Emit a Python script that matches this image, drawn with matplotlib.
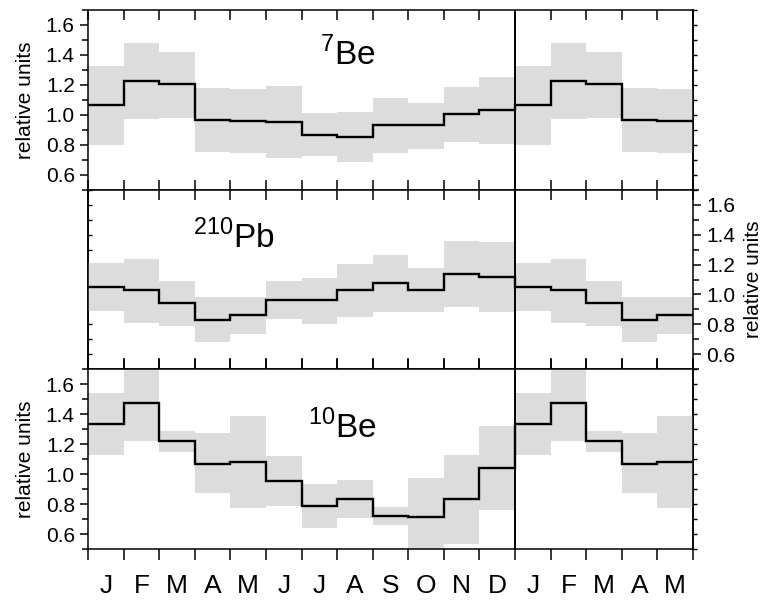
import matplotlib.pyplot as plt
import numpy as np

plt.rcParams['font.family'] = ['Liberation Sans', 'DejaVu Sans']
plt.rcParams['mathtext.fontset'] = 'custom'
plt.rcParams['mathtext.rm'] = 'Liberation Sans'

# month labels (12 months + first 5 repeated)
months = ['J', 'F', 'M', 'A', 'M', 'J', 'J', 'A', 'S', 'O', 'N', 'D',
          'J', 'F', 'M', 'A', 'M']

# 7Be: mean, upper and lower of the shaded band
be7_mean = [1.067, 1.229, 1.204, 0.967, 0.956, 0.951, 0.867, 0.851, 0.929, 0.929, 1.004, 1.031]
be7_hi = [1.329, 1.48, 1.422, 1.178, 1.173, 1.191, 1.009, 1.018, 1.109, 1.08, 1.184, 1.253]
be7_lo = [0.795, 0.971, 0.978, 0.753, 0.742, 0.713, 0.722, 0.682, 0.744, 0.771, 0.818, 0.802]

# 210Pb
pb_mean = [1.051, 1.027, 0.94, 0.829, 0.86, 0.96, 0.96, 1.029, 1.076, 1.033, 1.138, 1.118]
pb_hi = [1.211, 1.238, 1.091, 0.98, 0.98, 1.087, 1.111, 1.204, 1.264, 1.178, 1.358, 1.351]
pb_lo = [0.889, 0.807, 0.787, 0.682, 0.738, 0.833, 0.804, 0.851, 0.88, 0.884, 0.916, 0.882]

# 10Be
be10_mean = [1.333, 1.476, 1.22, 1.071, 1.084, 0.953, 0.789, 0.836, 0.722, 0.716, 0.833, 1.042]
be10_hi = [1.54, 1.72, 1.291, 1.273, 1.389, 1.118, 0.931, 0.958, 0.778, 0.971, 1.127, 1.324]
be10_lo = [1.129, 1.224, 1.151, 0.876, 0.775, 0.787, 0.642, 0.705, 0.662, 0.48, 0.535, 0.76]

names = [r'$^{7}$Be', r'$^{210}$Pb', r'$^{10}$Be']
label_pos = [(7.3, 1.40), (4.1, 1.38), (7.15, 1.31)]
series = [(be7_mean, be7_lo, be7_hi), (pb_mean, pb_lo, pb_hi), (be10_mean, be10_lo, be10_hi)]

fig = plt.figure(figsize=(7.66, 6.0), dpi=100)
gs = fig.add_gridspec(3, 1, left=88/766, right=693/766, top=1-10/600, bottom=1-549/600, hspace=0)
axes = [fig.add_subplot(gs[i]) for i in range(3)]

edges = np.arange(len(months) + 1)
ext = lambda v: np.array(list(v) + list(v[:5]))
major_y = [0.6, 0.8, 1.0, 1.2, 1.4, 1.6]
minor_y = np.arange(0.5, 1.71, 0.1)

for i, ax in enumerate(axes):
    m, lo, hi = series[i]
    ax.stairs(ext(hi), edges, baseline=ext(lo), fill=True, color='#dcdcdc', lw=0, zorder=1)
    ax.stairs(ext(m), edges, baseline=None, color='black', lw=1.7, zorder=3)
    ax.axvline(12, color='black', lw=1.4, zorder=4)
    ax.set_xlim(0, 17)
    ax.set_ylim(0.5, 1.7)
    for s in ax.spines.values():
        s.set_linewidth(1.1)
    ax.text(*label_pos[i], names[i], fontsize=24, ha='center', va='center')

    ax.set_xticks(edges)
    ax.set_xticks(edges[:-1] + 0.5, minor=True)
    ax.tick_params(axis='x', which='major', direction='in', length=7, width=1.1,
                   top=True, bottom=True, labelbottom=False)
    ax.tick_params(axis='x', which='minor', length=0, labelbottom=False)

    ax.set_yticks(major_y)
    ax.set_yticks(minor_y, minor=True)
    ax.tick_params(axis='y', labelsize=15)
    ax.tick_params(axis='y', which='major', direction='out', length=6, width=1.1)
    ax.tick_params(axis='y', which='minor', direction='out', length=4, width=1.1)

    # small ticks on the side without labels
    side = 'left' if i == 1 else 'right'
    sec = ax.secondary_yaxis(side)
    sec.set_yticks(major_y)
    sec.set_yticks(minor_y, minor=True)
    sec.tick_params(axis='y', which='both', direction='in' if i == 1 else 'out',
                    length=3, width=1.0, labelleft=False, labelright=False)
    sec.spines[side].set_linewidth(1.1)

    if i == 1:
        ax.yaxis.tick_right()
        ax.yaxis.set_label_position('right')
        ax.set_ylabel('relative units', fontsize=15, labelpad=6)
    else:
        ax.yaxis.tick_left()
        ax.set_ylabel('relative units', fontsize=15, labelpad=8)

axes[2].tick_params(axis='x', which='major', bottom=True, direction='out', length=8)
axes[2].tick_params(axis='x', which='minor', labelbottom=True, labelsize=19, pad=18)
axes[2].set_xticklabels(months, minor=True)

fig.savefig('out.png', dpi=100)
